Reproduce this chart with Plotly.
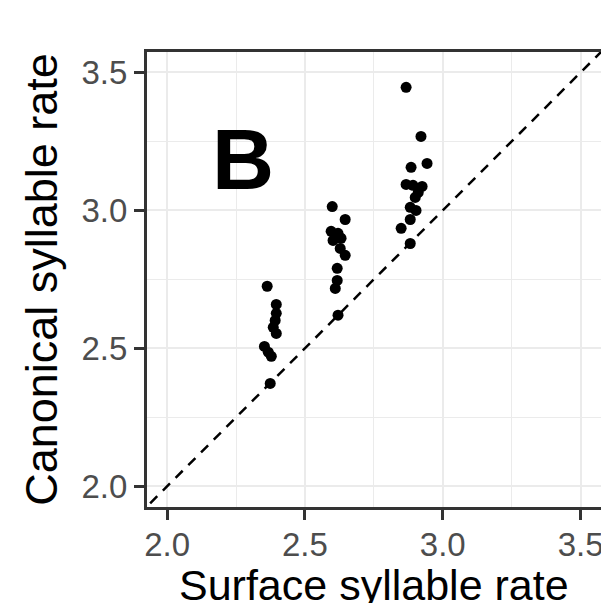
import plotly.graph_objects as go

# Data
surface = [
    2.363, 2.396, 2.396, 2.392, 2.385, 2.396, 2.353, 2.367, 2.378, 2.374,
    2.599, 2.646, 2.595, 2.620, 2.602, 2.631, 2.628, 2.646, 2.617, 2.617, 2.610, 2.620,
    2.867, 2.921, 2.885, 2.943, 2.867, 2.892, 2.925, 2.911, 2.900, 2.882, 2.903, 2.882, 2.849, 2.882,
]
canonical = [
    2.725, 2.659, 2.627, 2.601, 2.576, 2.554, 2.507, 2.486, 2.471, 2.373,
    3.014, 2.967, 2.924, 2.917, 2.891, 2.899, 2.862, 2.837, 2.790, 2.746, 2.717, 2.620,
    3.446, 3.268, 3.156, 3.170, 3.094, 3.091, 3.087, 3.065, 3.047, 3.011, 3.000, 2.967, 2.935, 2.880,
]
tick_vals = [2.0, 2.5, 3.0, 3.5]
tick_text = ["2.0", "2.5", "3.0", "3.5"]
x_range = [1.927, 3.574]
y_range = [1.925, 3.574]
x_title = "Surface syllable rate"
y_title = "Canonical syllable rate"
panel_label = "B"

FONT = "Liberation Sans, Arial, sans-serif"

fig = go.Figure()
fig.add_trace(go.Scatter(
    x=[1.8, 3.8], y=[1.8, 3.8], mode="lines",
    line=dict(color="black", width=2.5, dash="10px,8px"),
    hoverinfo="skip", showlegend=False,
))
fig.add_trace(go.Scatter(
    x=surface, y=canonical, mode="markers",
    marker=dict(color="black", size=11, line=dict(width=0)),
    showlegend=False,
))

axis_common = dict(
    tickvals=tick_vals, ticktext=tick_text,
    showgrid=True, gridcolor="#EBEBEB", gridwidth=2,
    minor=dict(dtick=0.25, showgrid=True, gridcolor="#EBEBEB", gridwidth=1, ticks=""),
    showline=True, linecolor="#333333", linewidth=3, mirror=True,
    ticks="outside", ticklen=10, tickwidth=3, tickcolor="#333333",
    tickfont=dict(family=FONT, size=33, color="#4D4D4D"),
    zeroline=False, automargin=False, ticklabeloverflow="allow",
)

fig.update_layout(
    width=601, height=603,
    margin=dict(l=147, r=0, t=52, b=96),
    plot_bgcolor="white", paper_bgcolor="white",
    xaxis=dict(range=x_range, ticklabelstandoff=-4, **axis_common),
    yaxis=dict(range=y_range, title=dict(text=y_title,
               font=dict(family=FONT, size=45, color="black"), standoff=10), **axis_common),
    annotations=[
        dict(x=0.211, y=0.765, xref="paper", yref="paper", text=f"<b>{panel_label}</b>",
             showarrow=False, font=dict(family=FONT, size=86, color="black"),
             xanchor="center", yanchor="middle"),
        dict(x=0.499, y=-0.171, xref="paper", yref="paper", text=x_title,
             showarrow=False, font=dict(family=FONT, size=43, color="black"),
             xanchor="center", yanchor="middle"),
    ],
)

fig.write_html("out.html")
